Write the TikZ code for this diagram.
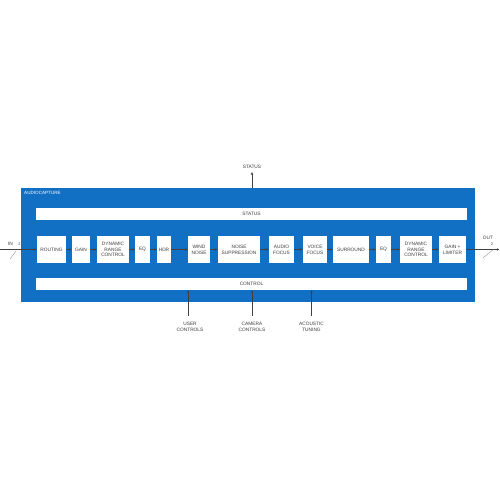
\documentclass[tikz,border=0pt]{standalone}
\usepackage{fontspec}
\setmainfont{Liberation Sans}
\usetikzlibrary{arrows.meta}
\definecolor{capblue}{RGB}{18,112,196}
\definecolor{txtgray}{RGB}{60,60,60}
\tikzset{
  blk/.style={fill=white, draw=none, minimum height=27pt, inner sep=0pt, align=center,
    font=\fontsize{4.8pt}{5.8pt}\selectfont, text=txtgray},
  bar/.style={fill=white, draw=none, minimum width=431pt, minimum height=12pt, inner sep=0pt,
    font=\fontsize{4.8pt}{5.8pt}\selectfont, text=txtgray},
  lbl/.style={inner sep=0pt, align=center, font=\fontsize{4.8pt}{5.8pt}\selectfont, text=txtgray},
  conn/.style={line width=0.3pt, draw=black!75, -{Latex[length=2.6pt,width=2.2pt]}},
  slash/.style={line width=0.3pt, draw=gray},
}
\begin{document}
\begin{tikzpicture}[x=1pt,y=-1pt]
\useasboundingbox[fill=white] (0,0) rectangle (500,500);
% main block
\node[fill=capblue, minimum width=454pt, minimum height=114pt, inner sep=0pt] (cap) at (248,245) {};
\node[anchor=west, inner sep=0pt, text=white, font=\fontsize{4.6pt}{5.6pt}\selectfont] (capl) at (24,193) {AUDIOCAPTURE};
% bars
\node[bar] (status) at (251.5,214) {STATUS};
\node[bar] (control) at (251.5,284) {CONTROL};
% blocks
\node[blk, minimum width=29pt] (routing) at (51.5,249.5) {ROUTING};
\node[blk, minimum width=18pt] (gain) at (81,249.5) {GAIN};
\node[blk, minimum width=32pt] (drca) at (113,249.5) {DYNAMIC\\RANGE\\CONTROL};
\node[blk, minimum width=15pt] (eqa) at (142.5,249.5) {EQ};
\node[blk, minimum width=14pt] (hdr) at (164,249.5) {HDR};
\node[blk, minimum width=22pt] (wind) at (199,249.5) {WIND\\NOISE};
\node[blk, minimum width=42pt] (noise) at (239,249.5) {NOISE\\SUPPRESSION};
\node[blk, minimum width=25pt] (audio) at (281.5,249.5) {AUDIO\\FOCUS};
\node[blk, minimum width=24pt] (voice) at (315,249.5) {VOICE\\FOCUS};
\node[blk, minimum width=36pt] (surr) at (351,249.5) {SURROUND};
\node[blk, minimum width=15pt] (eqb) at (383.5,249.5) {EQ};
\node[blk, minimum width=32pt] (drcb) at (416,249.5) {DYNAMIC\\RANGE\\CONTROL};
\node[blk, minimum width=27pt] (glim) at (452.5,249.5) {GAIN +\\LIMITER};
% chain arrows
\foreach \a/\b in {routing/gain, gain/drca, drca/eqa, eqa/hdr, hdr/wind, wind/noise, noise/audio, audio/voice, voice/surr, surr/eqb, eqb/drcb, drcb/glim}
  \draw[conn] (\a.east) -- (\b.west);
% input / output
\coordinate (inL) at (0,249.5);
\coordinate (outR) at (499.5,249.5);
\draw[conn] (inL) -- (routing.west);
\draw[conn] (glim.east) -- (outR);
\node[lbl] (inlbl) at (10.5,244) {IN};
\node[lbl, font=\fontsize{3.8pt}{4.5pt}\selectfont] (inw) at (19.5,244.5) {2};
\coordinate (ins1) at (10,259);
\coordinate (ins2) at (16,251);
\draw[slash] (ins1) -- (ins2);
\node[lbl] (outlbl) at (488,237.5) {OUT};
\node[lbl, font=\fontsize{3.8pt}{4.5pt}\selectfont] (outw) at (492,244.5) {2};
\coordinate (outs1) at (483,258);
\coordinate (outs2) at (494,249);
\draw[slash] (outs1) -- (outs2);
% status output
\node[lbl] (statlbl) at (252,167) {STATUS};
\draw[conn] (cap.north -| statlbl) -- ([yshift=-3pt]statlbl.south);
% control inputs
\coordinate (ux) at (188,0);
\node[lbl] (user) at (190,327) {USER\\CONTROLS};
\node[lbl] (camera) at (252,327) {CAMERA\\CONTROLS};
\node[lbl] (acoustic) at (311.5,327) {ACOUSTIC\\TUNING};
\draw[conn] ([yshift=6pt]user.north -| ux) -- (control.south -| ux);
\draw[conn] ([yshift=6pt]camera.north) -- (control.south -| camera);
\draw[conn] ([yshift=6pt]acoustic.north) -- (control.south -| acoustic);
\end{tikzpicture}
\end{document}
